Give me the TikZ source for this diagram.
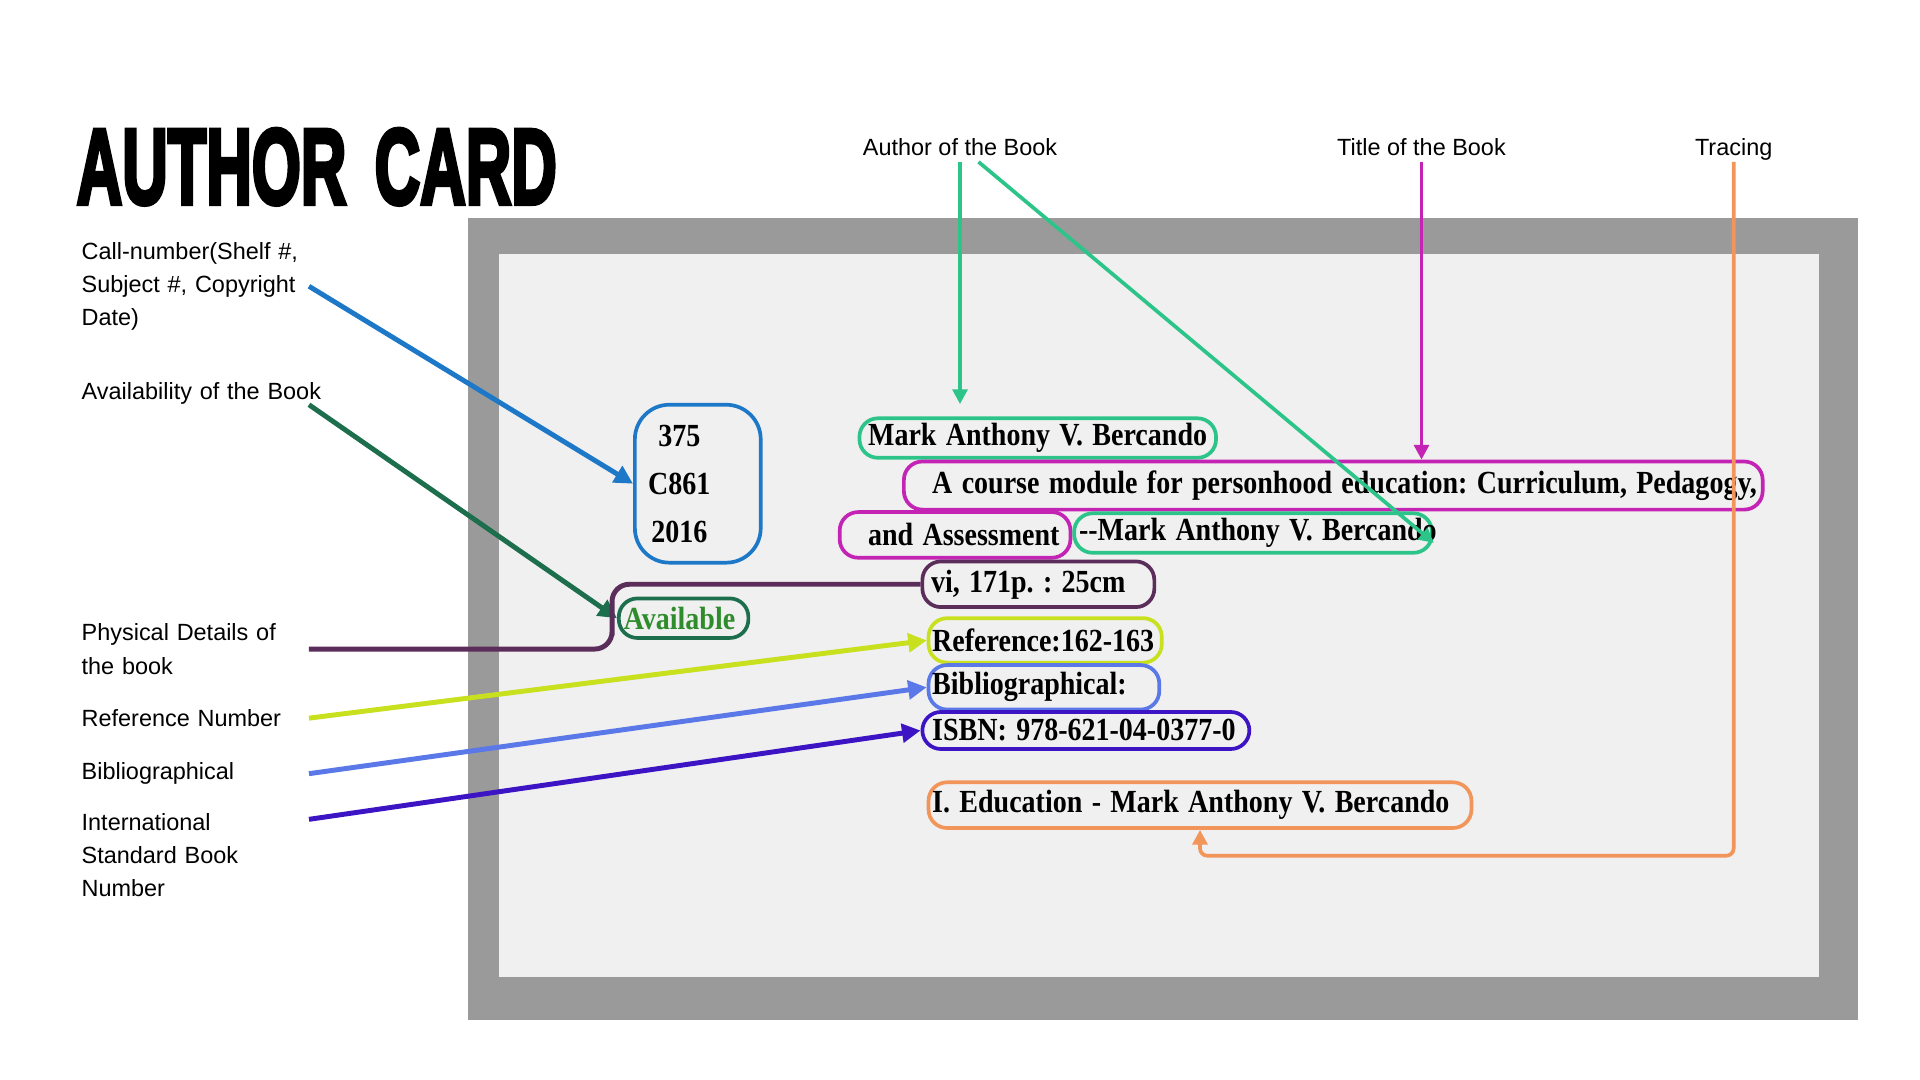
\documentclass[tikz,border=0pt]{standalone}
\usepackage{graphicx}
\usepackage{fontspec}
\setmainfont{Liberation Sans}
\newfontfamily\cardfont{Liberation Serif}
\newfontfamily\titlefont[FakeBold=4.5]{Liberation Sans}
\usetikzlibrary{positioning,arrows.meta,calc}
\frenchspacing

\definecolor{framegray}{HTML}{9A9A9A}
\definecolor{cardgray}{HTML}{F0F0F0}
\definecolor{callblue}{HTML}{1E78C8}
\definecolor{availdark}{HTML}{1C6E4C}
\definecolor{availtext}{HTML}{2F8C2C}
\definecolor{authgreen}{HTML}{2DC489}
\definecolor{titlemag}{HTML}{C424B4}
\definecolor{physplum}{HTML}{5A2D5A}
\definecolor{refyellow}{HTML}{C8E01E}
\definecolor{bibblue}{HTML}{5A78E8}
\definecolor{isbnindigo}{HTML}{3C14C4}
\definecolor{traceorange}{HTML}{F2955A}

\newcommand\fieldtext[2][7pt]{\hspace*{#1}\scalebox{1}[1.15]{#2}}

\begin{document}
\begin{tikzpicture}[x=1pt,y=-1pt,
  lbl/.style={font=\fontsize{19}{27}\selectfont, inner sep=0pt, anchor=west, text width=184pt, align=left},
  toplbl/.style={font=\fontsize{19}{27}\selectfont, inner sep=0pt, text height=14pt, text depth=5pt, anchor=base},
  field/.style={draw=#1, line width=3pt, rounded corners=15pt, anchor=west, align=left, inner sep=0pt,
    font={\cardfont\bfseries\fontsize{22.7}{39}\selectfont}},
  pointer/.style={line width=4pt, -{Triangle[length=15pt,width=15pt]}},
  lead/.style={line width=3pt, -{Triangle[length=12pt,width=12pt]}}]

	\fill[white] (0,0) rectangle (1556,875);
	\useasboundingbox (0,0) rectangle (1556,875);

	\fill[framegray] (379,177) rectangle (1506,827);
	\fill[cardgray] (404,206) rectangle (1474,792);

	\node[anchor=base west, inner sep=0pt, font={\titlefont\bfseries\fontsize{86.6}{90}\selectfont}] (heading) at (62,165)
	{\scalebox{0.59}[1]{AUTHOR\hspace{0.45em}CARD}};

	\node[toplbl] (lblauthor) at (778,126) {Author of the Book};
	\node[toplbl] (lbltitle) at (1152,126) {Title of the Book};
	\node[toplbl] (lbltrace) at (1405,126) {Tracing};

	\node[lbl] (lblcall) at (66,232) {Call-number(Shelf \#,\\ Subject \#, Copyright\\ Date)};
	\node[lbl] (lblavail) at (66,319) {\mbox{Availability of the Book}};
	\node[lbl] (lblphys) at (66,526) {Physical Details of\\ the book};
	\node[lbl] (lblref) at (66,582) {Reference Number};
	\node[lbl] (lblbib) at (66,627) {Bibliographical};
	\node[lbl] (lblisbn) at (66,693) {International\\ Standard Book\\ Number};

	% fields on the card
	\node[field=callblue, rounded corners=28pt, text width=102pt, minimum height=128pt] (callno) at (513,392)
	{\hspace*{7pt}\makebox[58pt]{\scalebox{1}[1.15]{375}}\\
	 \hspace*{7pt}\makebox[58pt]{\scalebox{1}[1.15]{C861}}\\
	 \hspace*{7pt}\makebox[58pt]{\scalebox{1}[1.15]{2016}}};
	\node[field=authgreen, text width=289pt, minimum height=32pt] (author) at (695,355)
	{\fieldtext{Mark Anthony V. Bercando}};
	\node[field=titlemag, text width=696pt, minimum height=39pt] (title1) at (731,393.5)
	{\fieldtext[23pt]{A course module for personhood education: Curriculum, Pedagogy,}};
	\node[field=titlemag, text width=187pt, minimum height=37pt] (title2) at (679,433.5)
	{\fieldtext[23pt]{and Assessment}};
	\node[field=authgreen, text width=290pt, minimum height=32pt] (author2) at (869,432)
	{\fieldtext[4pt]{-{}-Mark Anthony V. Bercando}};
	\node[field=physplum, text width=188pt, minimum height=37pt] (phys) at (746,473.5)
	{\fieldtext{vi, 171p. : 25cm}};
	\node[field=availdark, text width=105pt, minimum height=32pt, text=availtext] (avail) at (500,501)
	{\fieldtext[4pt]{Available}};
	\node[field=refyellow, text width=189pt, minimum height=36pt] (ref) at (751,519)
	{\fieldtext[3pt]{Reference:162-163}};
	\node[field=bibblue, text width=187pt, minimum height=36pt] (bib) at (751,557)
	{\fieldtext[3pt]{Bibliographical:}};
	\node[field=isbnindigo, text width=265pt, minimum height=30pt] (isbn) at (746,592)
	{\fieldtext[8pt]{ISBN: 978-621-04-0377-0}};
	\node[field=traceorange, text width=440pt, minimum height=37pt] (trace) at (751,652.5)
	{\fieldtext[3pt]{I. Education - Mark Anthony V. Bercando}};

	% connectors
	\draw[lead, authgreen, shorten >=10pt] (lblauthor.south) -- (lblauthor.south |- author.north);
	\draw[lead, authgreen] ([xshift=15pt]lblauthor.south) -- ([yshift=-8pt]author2.east);
	\draw[lead, titlemag] (lbltitle.south) -- (lbltitle.south |- title1.north);
	\draw[lead, traceorange, rounded corners=6pt] (lbltrace.south) |- ([yshift=-21pt]trace.south) -- (trace.south);

	\draw[pointer, callblue] (lblcall.east) -- (callno.west);
	\draw[pointer, availdark] ($(lblavail.east)+(0,9)$) -- (avail.west);
	\draw[physplum, line width=4pt, rounded corners=14pt] (lblphys.east) -| ([xshift=-4pt]avail.west) |- (phys.west);
	\draw[pointer, refyellow] (lblref.east) -- (ref.west);
	\draw[pointer, bibblue] (lblbib.east) -- (bib.west);
	\draw[pointer, isbnindigo] ($(lblisbn.east)+(0,-29)$) -- (isbn.west);

\end{tikzpicture}
\end{document}
